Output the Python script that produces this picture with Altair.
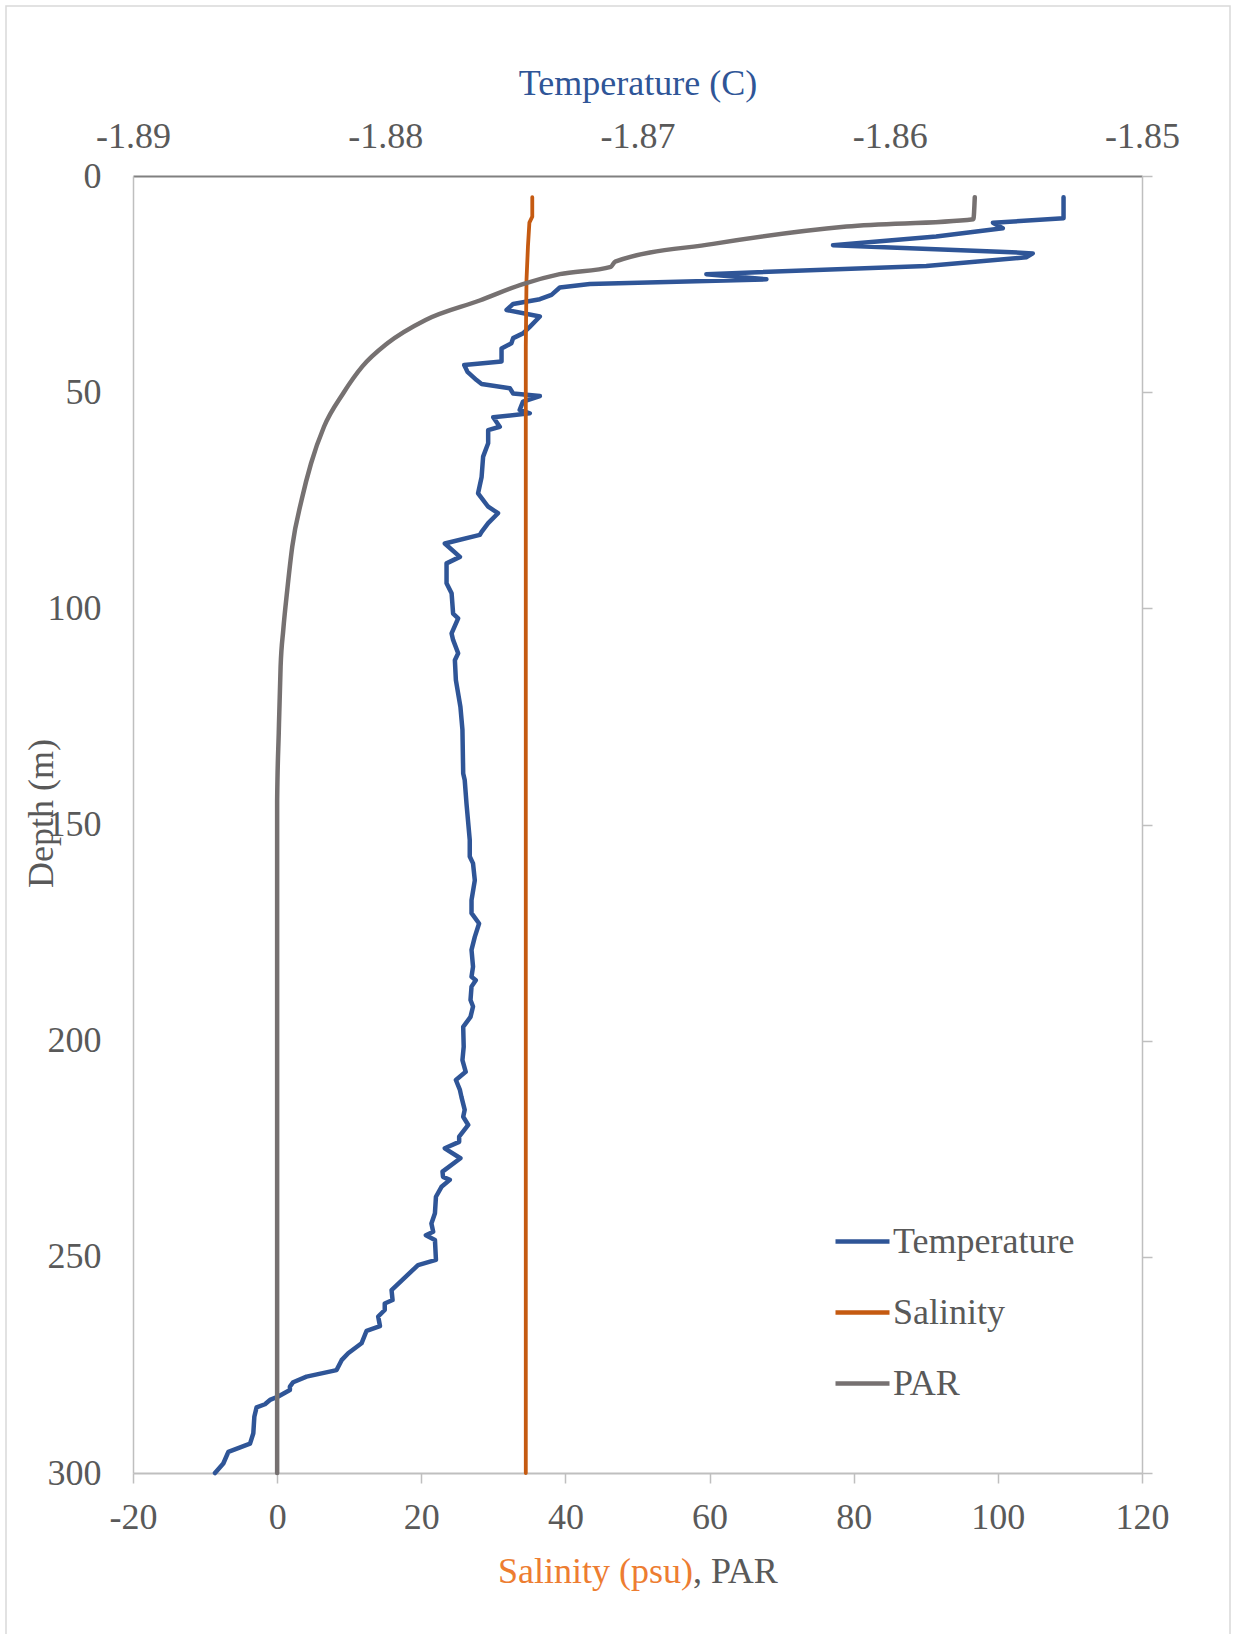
import altair as alt
import pandas as pd

FONT = "Liberation Serif"
BLUE = "#2F5597"
ORANGE = "#C55A11"
GRAY = "#767171"
TEXT = "#595959"
AXIS = "#bfbfbf"

# ---- data ----
temp_depth = [4.9, 9.8, 10.8, 12.1, 14.0, 16.0, 17.5, 17.9, 18.8, 20.8, 22.7, 23.9, 25.0, 25.8,
              27.5, 28.5, 29.6, 31.0, 32.5, 34.9, 36.4, 37.5, 38.7, 39.9, 42.9, 43.7, 45.3, 47.2,
              48.1, 49.1, 50.3, 50.9, 52.2, 54.1, 54.9, 55.8, 58.0, 58.8, 61.8, 64.9, 69.6, 73.4,
              76.5, 78.0, 80.3, 82.3, 83.0, 85.0, 88.1, 89.6, 94.2, 96.5, 101.2, 102.3, 105.8,
              107.3, 110.4, 112.0, 116.6, 122.8, 128.1, 138.2, 139.7, 145.1, 153.6, 157.4, 159.0,
              162.9, 167.5, 170.5, 172.9, 176.0, 179.0, 182.9, 185.2, 186.0, 187.5, 190.6, 192.1,
              194.5, 196.8, 201.4, 204.5, 207.2, 209.1, 211.4, 213.0, 216.0, 217.6, 219.5, 222.2,
              223.4, 224.9, 227.2, 230.3, 231.5, 232.2, 233.8, 236.1, 239.9, 242.3, 244.2, 245.0,
              246.1, 250.7, 251.9, 257.7, 260.0, 260.8, 262.3, 263.8, 266.0, 267.1, 270.0, 272.3,
              273.9, 276.2, 277.7, 279.0, 280.0, 280.8, 282.3, 283.1, 284.1, 284.8, 287.0, 290.8,
              293.2, 295.1, 297.8, 300.0]
temp_value = [-1.85311, -1.85311, -1.85591, -1.85552, -1.85816, -1.86225, -1.85565, -1.85433,
              -1.85459, -1.85855, -1.86727, -1.86489, -1.87189, -1.87308, -1.87341, -1.87387,
              -1.87493, -1.87519, -1.87387, -1.87427, -1.87454, -1.87493, -1.87500, -1.87539,
              -1.87539, -1.87687, -1.87674, -1.87638, -1.87618, -1.87506, -1.87493, -1.87387,
              -1.87454, -1.87467, -1.87427, -1.87572, -1.87546, -1.87592, -1.87592, -1.87612,
              -1.87618, -1.87632, -1.87592, -1.87553, -1.87592, -1.87618, -1.87625, -1.87764,
              -1.87704, -1.87757, -1.87757, -1.87737, -1.87731, -1.87711, -1.87737, -1.87731,
              -1.87711, -1.87724, -1.87720, -1.87702, -1.87694, -1.87691, -1.87685, -1.87678,
              -1.87665, -1.87665, -1.87652, -1.87645, -1.87658, -1.87658, -1.87628, -1.87645,
              -1.87658, -1.87652, -1.87658, -1.87641, -1.87658, -1.87662, -1.87652, -1.87662,
              -1.87691, -1.87689, -1.87694, -1.87681, -1.87720, -1.87704, -1.87698, -1.87685,
              -1.87691, -1.87671, -1.87707, -1.87707, -1.87764, -1.87702, -1.87773, -1.87771,
              -1.87744, -1.87777, -1.87799, -1.87803, -1.87817, -1.87810, -1.87839, -1.87803,
              -1.87799, -1.87870, -1.87975, -1.87971, -1.88002, -1.88002, -1.88028, -1.88021,
              -1.88074, -1.88094, -1.88147, -1.88173, -1.88193, -1.88312, -1.88365, -1.88378,
              -1.88378, -1.88424, -1.88457, -1.88477, -1.88510, -1.88519, -1.88523, -1.88536,
              -1.88622, -1.88642, -1.88675]

sal_depth = [4.9, 9.4, 10.8, 16.3, 24.0, 39.4, 300.0]
sal_value = [35.4, 35.4, 35.0, 34.8, 34.6, 34.5, 34.5]

par_depth = [4.9, 10.0, 11.7, 15.7, 19.8, 21.0, 22.7, 25.0, 28.8, 33.3, 38.7, 44.1, 50.3, 58.0,
             66.5, 74.9, 85.7, 95.8, 105.0, 113.5, 129.0, 144.5, 300.0]
par_value = [96.8, 96.6, 79.0, 60.5, 46.9, 46.3, 39.2, 34.1, 28.1, 20.6, 15.3, 11.8, 9.15, 6.5,
             4.7, 3.4, 2.1, 1.4, 0.85, 0.48, 0.22, 0.0, 0.0]

series_names = ["Temperature", "Salinity", "PAR"]
series_colors = [BLUE, ORANGE, GRAY]
depth_ticks = [0, 50, 100, 150, 200, 250, 300]
bottom_ticks = [-20, 0, 20, 40, 60, 80, 100, 120]
top_ticks = [-1.89, -1.88, -1.87, -1.86, -1.85]

# ---- tables ----
df_t = pd.DataFrame({"depth": temp_depth, "temp": temp_value})
df_t["series"] = "Temperature"
df_t["idx"] = range(len(df_t))

df_s = pd.DataFrame({"depth": sal_depth, "value": sal_value})
df_s["series"] = "Salinity"
df_s["idx"] = range(len(df_s))
df_p = pd.DataFrame({"depth": par_depth, "value": par_value})
df_p["series"] = "PAR"
df_p["idx"] = range(len(df_p))

one = pd.DataFrame({"a": [0]})

color_scale = alt.Scale(domain=series_names, range=series_colors)
legend = alt.Legend(orient="none", legendX=700, legendY=1036, title=None,
                    symbolType="stroke", symbolSize=2916, symbolStrokeWidth=4.5,
                    labelFont=FONT, labelFontSize=36, labelColor=TEXT, labelOffset=1,
                    rowPadding=23, padding=0, labelLimit=500)

depth_scale = alt.Scale(domain=[0, 300], reverse=True, nice=False, zero=False)
value_scale = alt.Scale(domain=[-20, 120], nice=False, zero=False)

frame = alt.Chart(one).mark_rect(fillOpacity=0, stroke="#d9d9d9", strokeWidth=1.5).encode(
    x=alt.value(-127), x2=alt.value(1097), y=alt.value(-170), y2=alt.value(1475)
)

temp_line = alt.Chart(df_t).mark_line(strokeWidth=4.5, strokeCap="round", strokeJoin="round").encode(
    x=alt.X("temp:Q",
            scale=alt.Scale(domain=[-1.89, -1.85], nice=False, zero=False),
            axis=alt.Axis(orient="top", values=top_ticks,
                          labelExpr="datum.value < 0 ? '-' + format(abs(datum.value), '.2f') : format(datum.value, '.2f')",
                          grid=False, ticks=False, tickSize=0, labelPadding=21,
                          labelFont=FONT, labelFontSize=36, labelColor=TEXT,
                          labelFlush=False, labelOverlap=False,
                          domainColor="#808080", domainWidth=2,
                          title="Temperature (C)", titleFont=FONT, titleFontSize=36,
                          titleFontWeight="normal", titleColor=BLUE,
                          titleY=-82, titleBaseline="alphabetic")),
    y=alt.Y("depth:Q", scale=depth_scale,
            axis=alt.Axis(orient="right", values=depth_ticks, labels=False, ticks=True,
                          tickSize=10, tickColor=AXIS, tickWidth=1.5,
                          domainColor=AXIS, domainWidth=1.5, grid=False, title=None)),
    order=alt.Order("idx:Q"),
    color=alt.Color("series:N", scale=color_scale, legend=legend),
)

sal_line = alt.Chart(df_s).mark_line(strokeWidth=3.8, strokeCap="round", strokeJoin="round").encode(
    x=alt.X("value:Q", scale=value_scale,
            axis=alt.Axis(orient="bottom", values=bottom_ticks,
                          labelExpr="datum.value < 0 ? '-' + format(abs(datum.value), 'd') : format(datum.value, 'd')",
                          grid=False, tickSize=10, tickColor=AXIS, tickWidth=1.5,
                          labelPadding=17, labelFont=FONT, labelFontSize=36, labelColor=TEXT,
                          labelFlush=False, labelOverlap=False,
                          domainColor=AXIS, domainWidth=2, title=None)),
    y=alt.Y("depth:Q", scale=depth_scale,
            axis=alt.Axis(orient="left", values=depth_ticks, ticks=False, tickSize=0,
                          labelPadding=32, labelFont=FONT, labelFontSize=36, labelColor=TEXT,
                          domainColor=AXIS, domainWidth=1.5, grid=False,
                          title="Depth (m)", titleFont=FONT, titleFontSize=36,
                          titleFontWeight="normal", titleColor=TEXT, titleAngle=270,
                          titleX=-81, titleY=637, titleBaseline="alphabetic",
                          titleAlign="center")),
    order=alt.Order("idx:Q"),
    color=alt.Color("series:N", scale=color_scale, legend=legend),
)

par_line = alt.Chart(df_p).mark_line(strokeWidth=4.5, strokeCap="round", strokeJoin="round",
                                     interpolate="monotone").encode(
    x=alt.X("value:Q", scale=value_scale, axis=None),
    y=alt.Y("depth:Q", scale=depth_scale, axis=None),
    order=alt.Order("idx:Q"),
    color=alt.Color("series:N", scale=color_scale, legend=legend),
)

title_sal = alt.Chart(one).mark_text(align="right", baseline="alphabetic", font=FONT,
                                     fontSize=36, color="#ED7D31").encode(
    x=alt.value(560), y=alt.value(1407), text=alt.value("Salinity (psu)"))
title_par = alt.Chart(one).mark_text(align="left", baseline="alphabetic", font=FONT,
                                     fontSize=36, color=TEXT).encode(
    x=alt.value(560), y=alt.value(1407), text=alt.value(", PAR"))

chart = alt.layer(frame, temp_line, sal_line, par_line, title_sal, title_par).resolve_scale(
    x="independent", y="independent"
).properties(
    width=1009, height=1297,
    autosize=alt.AutoSizeParams(type="none"),
    padding={"left": 133, "top": 176, "right": 113, "bottom": 161},
    background="white",
).configure_view(strokeWidth=0)

chart.save("out.html", embed_options={"renderer": "svg", "actions": False})
